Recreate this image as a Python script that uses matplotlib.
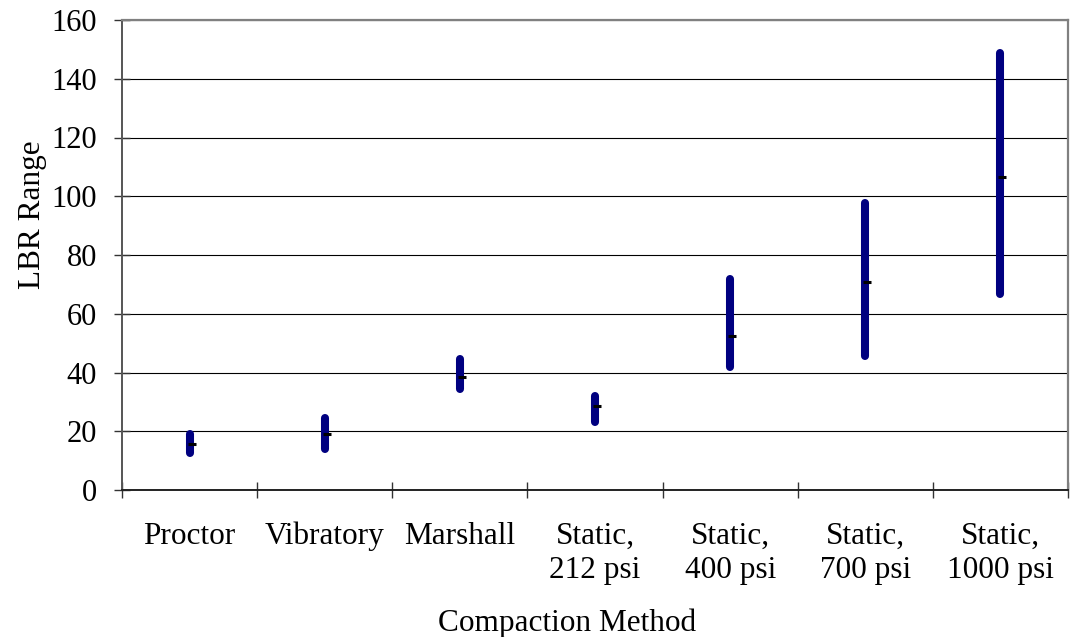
import matplotlib
matplotlib.use("Agg")
import matplotlib.pyplot as plt
import numpy as np

# ── data ──────────────────────────────────────────────────────────────────────
methods = ["Proctor", "Vibratory", "Marshall", "Static,\n212 psi",
           "Static,\n400 psi", "Static,\n700 psi", "Static,\n1000 psi"]
lbr_high = [19.2, 24.4, 44.6, 32.1, 71.8, 97.6, 148.7]
lbr_low  = [12.6, 14.1, 34.4, 23.3, 41.9, 45.6, 66.8]
lbr_mean = [15.8, 19.0, 38.5, 28.6, 52.4, 70.7, 106.4]
y_ticks  = [0, 20, 40, 60, 80, 100, 120, 140, 160]

plt.rcParams["font.family"] = ["Liberation Serif", "DejaVu Serif"]

fig = plt.figure(figsize=(10.7, 6.37), dpi=100)
ax = fig.add_axes([122 / 1070, 147 / 637, 946 / 1070, 470 / 637])

x = np.arange(len(methods))

# high-low bars
ax.vlines(x, lbr_low, lbr_high, colors="#000080", linewidth=5.8,
          capstyle="round", zorder=3)
# mean tick (to the right of the bar, like an Excel close marker)
ax.plot(x, lbr_mean, linestyle="none", color="black",
        marker=[(-0.3, 0), (1, 0)], markersize=9, markeredgewidth=2.2,
        zorder=4)

ax.set_xlim(-0.5, len(methods) - 0.5)
ax.set_ylim(0, 160)

# grid
ax.set_yticks(y_ticks)
ax.yaxis.grid(True, color="black", linewidth=0.8)
ax.set_axisbelow(True)

# category boundaries as major ticks, labels on minor ticks
ax.set_xticks(np.arange(len(methods) + 1) - 0.5)
ax.set_xticklabels([])
ax.set_xticks(x, minor=True)
ax.set_xticklabels(methods, minor=True, fontsize=22.5, linespacing=1.25)
ax.tick_params(axis="x", which="minor", length=0, pad=23)
ax.tick_params(axis="x", which="major", direction="inout", length=12,
               width=1.0, color="#333333")
ax.tick_params(axis="y", direction="inout", length=12, width=1.0,
               color="#333333", labelsize=22, pad=12)

for side in ("top", "right"):
    ax.spines[side].set_color("#808080")
    ax.spines[side].set_linewidth(1.6)
ax.spines["left"].set_color("#555555")
ax.spines["left"].set_linewidth(1.4)
ax.spines["bottom"].set_color("#222222")
ax.spines["bottom"].set_linewidth(1.4)

ax.set_ylabel("LBR Range", fontsize=22.5)
ax.yaxis.set_label_coords(-0.079, 0.585)
ax.set_xlabel("Compaction Method", fontsize=22.5)
ax.xaxis.set_label_coords(0.47, -0.253)

fig.savefig("out.png", dpi=100)
